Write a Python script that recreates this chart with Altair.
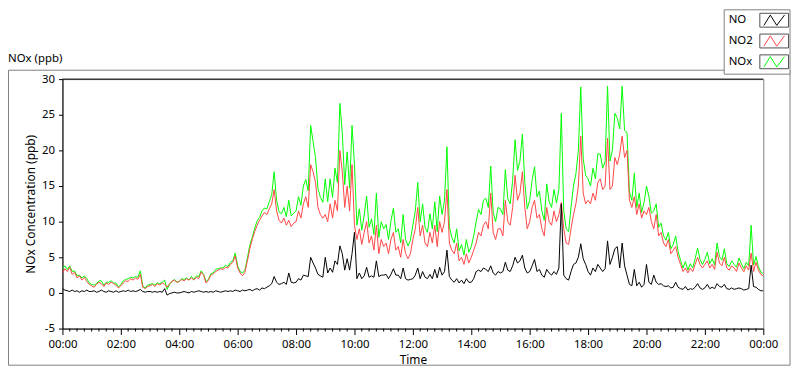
import altair as alt
import pandas as pd

# ---- data (5-minute steps, 00:00 .. 24:00) ----
NO2 = [
    2.8, 3.4, 3.0, 3.6, 2.6, 2.9, 2.1, 2.4, 1.8, 2.2, 1.6, 1.2,
    1.0, 0.8, 1.2, 1.5, 1.3, 0.9, 1.4, 1.2, 1.5, 1.3, 1.1, 0.7,
    1.0, 1.4, 1.7, 1.6, 2.0, 1.8, 2.1, 1.9, 2.6, 0.8, 0.6, 0.9,
    1.0, 1.2, 0.9, 1.3, 1.1, 1.4, 1.2, 0.8, 1.3, 1.6, 1.8, 1.5,
    1.6, 1.9, 1.7, 2.0, 1.8, 2.1, 1.8, 2.2, 2.0, 2.9, 2.5, 1.4,
    1.8, 2.5, 2.7, 3.0, 3.2, 3.4, 3.3, 3.6, 3.5, 4.0, 4.3, 5.2,
    3.5, 2.8, 2.4, 2.9, 4.5, 6.2, 7.5, 8.6, 9.5, 10.2, 10.8, 11.3,
    11.0, 11.8, 12.5, 14.5, 11.5, 10.2, 9.8, 10.5, 9.5, 10.2, 9.3, 9.8,
    10.0, 11.5, 10.5, 12.5, 13.5, 12.0, 18.0, 17.0, 15.5, 12.0, 11.0, 10.5,
    11.0, 10.0, 12.5, 10.5, 13.0, 11.5, 20.0, 17.0, 12.0, 15.0, 11.5, 18.0,
    9.5, 7.5, 9.0, 6.8, 8.5, 10.0, 7.0, 8.0, 6.0, 9.5, 5.5, 7.5,
    6.5, 7.0, 5.5, 7.5, 8.5, 6.0, 6.5, 5.0, 7.5, 5.5, 4.8, 5.5,
    7.5, 9.0, 12.0, 8.0, 9.5, 7.0, 6.5, 8.5, 7.0, 9.5, 6.5, 10.0,
    8.5, 10.0, 14.5, 7.0, 6.0, 5.5, 7.0, 4.5, 5.0, 4.0, 5.5, 4.2,
    5.0, 6.0, 7.0, 8.5, 8.0, 9.5, 10.0, 9.0, 14.0, 8.5, 7.5, 9.0,
    9.0, 8.0, 13.0, 10.0, 9.5, 12.0, 16.5, 13.0, 14.0, 17.0, 12.0, 9.0,
    10.0, 12.0, 13.0, 10.5, 11.0, 9.0, 8.0, 12.0, 10.0, 9.5, 11.5, 10.0,
    11.0, 12.7, 9.0, 7.0, 6.8, 9.0, 11.0, 12.5, 15.0, 22.0, 14.0, 12.5,
    13.0, 12.5, 14.0, 13.0, 15.5, 16.0, 14.5, 15.0, 21.7, 14.5, 15.0, 19.0,
    18.0, 19.5, 22.0, 19.0, 20.0, 13.0, 12.0, 13.5, 11.0, 12.5, 10.5, 11.5,
    11.0, 12.0, 10.0, 9.0, 11.0, 8.0, 8.5, 7.0, 6.5, 7.5, 5.5, 6.0,
    6.5, 5.0, 4.0, 3.0, 3.5, 2.8, 3.5, 3.0, 4.0, 5.0, 4.0, 3.5,
    4.0, 4.5, 3.5, 4.0, 3.3, 5.7, 4.2, 3.8, 5.0, 3.5, 3.2, 3.8,
    3.5, 3.0, 4.2, 3.5, 3.0, 3.8, 3.2, 5.6, 3.0, 4.3, 3.2, 2.6,
    2.4,
]

NO = [
    0.6, 0.4, 0.3, 0.2, 0.4, 0.2, 0.3, 0.1, 0.3, 0.2, 0.4, 0.2,
    0.2, 0.3, 0.1, 0.2, 0.4, 0.2, 0.1, 0.3, 0.2, 0.1, 0.3, 0.1,
    0.2, 0.3, 0.2, 0.4, 0.2, 0.3, 0.2, 0.3, 0.5, 0.2, 0.1, 0.2,
    0.2, 0.1, 0.2, 0.1, 0.2, 0.1, 0.6, -0.3, -0.1, 0.0, 0.1, 0.0,
    0.0, 0.1, 0.2, 0.1, 0.0, 0.2, 0.1, 0.2, 0.3, 0.2, 0.1, 0.2,
    0.1, 0.2, 0.1, 0.3, 0.2, 0.1, 0.2, 0.3, 0.2, 0.3, 0.2, 0.4,
    0.3, 0.2, 0.4, 0.3, 0.4, 0.5, 0.3, 0.5, 0.6, 0.4, 0.7, 0.6,
    0.8, 1.0, 1.3, 2.3, 1.5, 1.2, 1.3, 1.5, 1.2, 2.8, 1.5, 1.4,
    1.5, 2.0, 1.8, 2.5, 2.4, 2.3, 5.0, 4.2, 3.5, 2.6, 2.4, 2.2,
    5.0, 2.8, 3.5, 2.9, 4.5, 4.0, 6.6, 5.5, 3.2, 4.8, 3.2, 5.5,
    8.5, 2.0, 2.8, 2.0, 2.4, 3.6, 2.2, 2.4, 2.2, 4.5, 2.3, 2.5,
    2.5, 2.6, 2.0, 2.6, 3.4, 2.5, 2.5, 2.0, 3.5, 2.0, 1.8, 1.9,
    2.0, 2.5, 3.5, 2.0, 3.0, 2.2, 2.0, 2.6, 2.0, 3.3, 2.1, 3.6,
    2.5, 3.0, 6.0, 2.3, 1.8, 1.5, 2.0, 1.4, 1.8, 1.3, 2.0, 1.5,
    1.5, 2.0, 3.0, 3.2, 3.0, 3.5, 3.3, 3.0, 3.8, 2.8, 2.5, 3.0,
    2.8, 3.0, 4.3, 3.2, 3.0, 3.8, 5.0, 4.2, 4.5, 5.3, 3.5, 2.8,
    3.0, 3.8, 4.7, 3.0, 3.3, 2.5, 2.2, 3.3, 2.8, 2.5, 3.0, 2.6,
    3.5, 12.5, 2.5, 2.0, 1.8, 3.0, 4.0, 4.2, 5.0, 6.9, 4.8, 4.0,
    3.0, 2.5, 3.5, 3.0, 4.0, 3.5, 3.0, 3.4, 7.3, 4.0, 5.0, 6.2,
    6.5, 3.5, 7.0, 3.8, 2.5, 1.2, 1.0, 3.3, 1.0, 1.5, 0.8, 1.2,
    4.0, 1.5, 1.2, 2.5, 1.5, 1.2, 1.3, 1.0, 0.9, 1.0, 0.7, 0.8,
    1.5, 0.8, 0.6, 0.5, 0.9, 0.4, 0.6, 0.5, 0.8, 1.3, 0.7, 0.5,
    0.7, 1.2, 0.6, 0.8, 0.6, 1.3, 0.9, 0.8, 1.2, 0.6, 0.5, 0.7,
    0.5, 0.6, 0.7, 0.6, 0.4, 0.5, 0.6, 3.9, 0.9, 0.8, 0.5, 0.3,
    0.3,
]

NOX = [
    3.4, 3.8, 3.3, 3.8, 3.0, 3.1, 2.4, 2.5, 2.1, 2.4, 2.0, 1.4,
    1.2, 1.1, 1.3, 1.7, 1.7, 1.1, 1.5, 1.5, 1.7, 1.4, 1.4, 0.8,
    1.2, 1.7, 1.9, 2.0, 2.2, 2.1, 2.3, 2.2, 3.1, 1.0, 0.7, 1.1,
    1.2, 1.3, 1.1, 1.4, 1.3, 1.5, 1.8, 0.5, 1.2, 1.6, 1.9, 1.5,
    1.6, 2.0, 1.9, 2.1, 1.8, 2.3, 1.9, 2.4, 2.3, 3.1, 2.6, 1.6,
    1.9, 2.7, 2.8, 3.3, 3.4, 3.5, 3.5, 3.9, 3.7, 4.3, 4.5, 5.6,
    3.8, 3.0, 2.8, 3.2, 4.9, 6.7, 7.8, 9.1, 10.1, 10.6, 11.5, 11.9,
    11.8, 12.8, 13.8, 17.0, 13.0, 11.4, 11.1, 12.0, 10.7, 13.0, 10.8, 11.2,
    11.5, 13.5, 12.3, 15.0, 15.9, 14.3, 23.5, 21.2, 19.0, 14.6, 13.4, 12.7,
    16.0, 12.8, 16.0, 13.4, 17.5, 15.5, 26.6, 22.5, 15.2, 19.8, 14.7, 23.5,
    18.0, 9.5, 11.8, 8.8, 10.9, 13.6, 9.2, 10.4, 8.2, 14.0, 7.8, 10.0,
    9.0, 9.6, 7.5, 10.1, 11.9, 8.5, 9.0, 7.0, 11.0, 7.5, 6.6, 7.4,
    9.5, 11.5, 15.5, 10.0, 12.5, 9.2, 8.5, 11.1, 9.0, 12.8, 8.6, 13.6,
    11.0, 13.0, 20.5, 9.3, 7.8, 7.0, 9.0, 5.9, 6.8, 5.3, 7.5, 5.7,
    6.5, 8.0, 10.0, 11.7, 11.0, 13.0, 13.3, 12.0, 17.8, 11.3, 10.0, 12.0,
    11.8, 11.0, 17.3, 13.2, 12.5, 15.8, 21.5, 17.2, 18.5, 22.3, 15.5, 11.8,
    13.0, 15.8, 17.7, 13.5, 14.3, 11.5, 10.2, 15.3, 12.8, 12.0, 14.5, 12.6,
    14.5, 25.2, 11.5, 9.0, 8.6, 12.0, 15.0, 16.7, 20.0, 28.9, 18.8, 16.5,
    16.0, 15.0, 17.5, 16.0, 19.5, 19.5, 17.5, 18.4, 29.0, 18.5, 20.0, 25.2,
    24.5, 23.0, 29.0, 22.8, 22.5, 14.2, 13.0, 16.8, 12.0, 14.0, 11.3, 12.7,
    15.0, 13.5, 11.2, 11.5, 12.5, 9.2, 9.8, 8.0, 7.4, 8.5, 6.2, 6.8,
    8.0, 5.8, 4.6, 3.5, 4.4, 3.2, 4.1, 3.5, 4.8, 6.3, 4.7, 4.0,
    4.7, 5.7, 4.1, 4.8, 3.9, 7.0, 5.1, 4.6, 6.2, 4.1, 3.7, 4.5,
    4.0, 3.6, 4.9, 4.1, 3.4, 4.3, 3.8, 9.5, 3.9, 5.1, 3.7, 2.9,
    2.7,
]

SERIES = ["NO", "NO2", "NOx"]
COLORS = ["#000000", "#ff4646", "#00ff00"]
Y_TICKS = [-5, 0, 5, 10, 15, 20, 25, 30]
X_TICK_HOURS = list(range(0, 25, 2))

FONT = "Noto Sans"
W, H = 708, 252

times = pd.date_range("2000-01-01 00:00", periods=len(NO2), freq="5min")
wide = pd.DataFrame({"time": times, "NO": NO, "NO2": NO2, "NOx": NOX})
long = wide.melt(id_vars="time", var_name="series", value_name="value")

minor = pd.date_range("2000-01-01 00:00", "2000-01-02 00:00", freq="15min")
minor = minor[~((minor.minute == 0) & (minor.hour % 2 == 0))]
minor_df = pd.DataFrame({"time": minor})

one = pd.DataFrame({"a": [0]})


def dt(h):
    return alt.DateTime(year=2000, month=1, date=1 + h // 24, hours=h % 24)


x_enc = alt.X(
    "time:T",
    scale=alt.Scale(domain=[dt(0), dt(24)]),
    axis=alt.Axis(
        title="Time", format="%H:%M", values=[dt(h) for h in X_TICK_HOURS],
        tickSize=6, labelPadding=4, titlePadding=5, grid=False,
        labelFlush=False, labelOverlap=False,
    ),
)
y_enc = alt.Y(
    "value:Q",
    scale=alt.Scale(domain=[-5, 30], nice=False, zero=False),
    axis=alt.Axis(
        title="NOx Concentration (ppb)", values=Y_TICKS, tickSize=4,
        labelPadding=4, titlePadding=4, grid=False,
        labelExpr="'' + datum.value",
    ),
)

color_enc = alt.Color(
    "series:N", scale=alt.Scale(domain=SERIES, range=COLORS), legend=None
)

panel = alt.Chart(one).mark_rect(filled=False, stroke="#808080", strokeWidth=1).encode(
    x=alt.value(-54.5), x2=alt.value(735), y=alt.value(-9), y2=alt.value(289)
)

head = alt.Chart(one).mark_text(
    align="left", baseline="middle", font=FONT, fontSize=11.5, color="black"
).encode(x=alt.value(-55), y=alt.value(-20), text=alt.value("NOx (ppb)"))

lines = [
    alt.Chart(long).transform_filter(alt.datum.series == s)
    .mark_line(strokeWidth=1, clip=True)
    .encode(x=x_enc, y=y_enc, color=color_enc)
    for s in ["NOx", "NO2", "NO"]
]

minor_ticks = alt.Chart(minor_df).mark_rule(color="black", strokeWidth=1).encode(
    x=x_enc, y=alt.value(H), y2=alt.value(H + 3)
)

top_border = alt.Chart(one).mark_rule(color="black", strokeWidth=1).encode(
    x=alt.value(0), x2=alt.value(W), y=alt.value(0)
)

# ---- legend (label on the left, zig-zag glyph in a small box on the right) ----
ZIG = "M-0.8,0.4L-0.3,-0.4L0.2,0.4L0.8,-0.4"
LEG_X0, LEG_X1, LEG_Y0, LEG_Y1 = 668.5, 735, -70, -5
legend_layers = [
    alt.Chart(one).mark_rect(fill="white", stroke="#808080", strokeWidth=1).encode(
        x=alt.value(LEG_X0), x2=alt.value(LEG_X1), y=alt.value(LEG_Y0), y2=alt.value(LEG_Y1)
    )
]
for i, (name, col) in enumerate(zip(SERIES, COLORS)):
    cy = -59.5 + 21 * i
    legend_layers.append(
        alt.Chart(one).mark_text(
            align="left", baseline="middle", font=FONT, fontSize=11.5, color="black"
        ).encode(x=alt.value(673), y=alt.value(cy), text=alt.value(name))
    )
    legend_layers.append(
        alt.Chart(one).mark_rect(fill="white", stroke="#505050", strokeWidth=1).encode(
            x=alt.value(704.5), x2=alt.value(733.5), y=alt.value(cy - 7), y2=alt.value(cy + 7)
        )
    )
    legend_layers.append(
        alt.Chart(one).mark_point(
            shape=ZIG, size=676, filled=False, stroke=col, strokeWidth=1, opacity=1
        ).encode(x=alt.value(719), y=alt.value(cy))
    )

chart = alt.layer(panel, head, *lines, minor_ticks, top_border, *legend_layers).properties(
    width=W, height=H,
    autosize=alt.AutoSizeParams(type="none"),
    padding={"left": 55, "top": 70, "right": 29, "bottom": 39},
    background="white",
).configure_view(
    stroke="#808080", strokeWidth=1
).configure_axis(
    labelFont=FONT, labelFontSize=11.5, labelColor="black",
    titleFont=FONT, titleFontSize=12, titleFontWeight="normal", titleColor="black",
    domainColor="black", tickColor="black",
)

chart.save("out.html", embed_options={"renderer": "svg", "actions": False})
